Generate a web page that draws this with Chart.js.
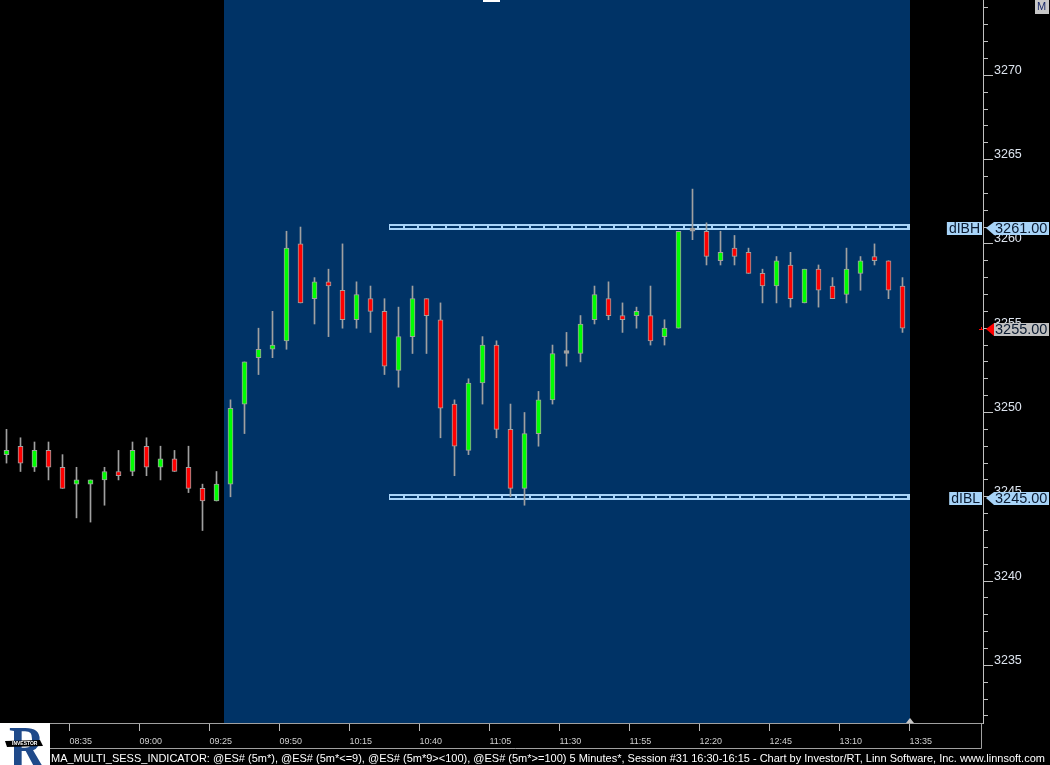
<!DOCTYPE html>
<html>
<head>
<meta charset="utf-8">
<title>@ES# 5 Minutes</title>
<script src="https://cdn.jsdelivr.net/npm/chart.js@4.4.1/dist/chart.umd.min.js"></script>
<style>
  html, body { margin: 0; padding: 0; background: #000; overflow: hidden; }
  #chart { display: block; }
</style>
</head>
<body>
<canvas id="chart" width="1050" height="765"></canvas>
<script>
// 5 minute bars, index 0 = first bar shown
const opens  = [3247.5, 3248, 3246.75, 3247.75, 3246.75, 3245.75, 3245.75, 3246, 3246.5, 3246.5,
                3248, 3246.75, 3247.25, 3246.75, 3245.5, 3244.75, 3245.75, 3250.5, 3253.25, 3253.75,
                3254.25, 3260, 3256.75, 3257.75, 3257.25, 3255.5, 3256.75, 3256, 3252.5, 3254.5,
                3256.75, 3255.5, 3250.5, 3247.75, 3251.75, 3254, 3249, 3245.5, 3248.75, 3250.75,
                3253.5, 3253.5, 3255.5, 3256.75, 3255.75, 3255.75, 3255.75, 3254.5, 3255, 3260.75,
                3260.75, 3259, 3259.75, 3259.5, 3258.25, 3257.5, 3258.75, 3256.5, 3258.5, 3257.5,
                3257, 3258.25, 3259.25, 3259, 3257.5];
const highs  = [3249, 3248.5, 3248.25, 3248.25, 3247.5, 3246.75, 3246, 3246.75, 3247.75, 3248.25,
                3248.5, 3248, 3247.75, 3248, 3245.75, 3246.5, 3250.75, 3253, 3255, 3256,
                3260.75, 3261, 3258, 3258.5, 3260, 3257.75, 3257.5, 3256.75, 3256.25, 3257.5,
                3256.75, 3256.5, 3250.75, 3252, 3254.5, 3254.25, 3250.5, 3250, 3251.25, 3254,
                3254.75, 3255.75, 3257.5, 3257.75, 3256.5, 3256.25, 3257.5, 3255.5, 3260.75, 3263.25,
                3261.25, 3260.75, 3260.5, 3259.75, 3258.5, 3259.25, 3259.5, 3258.5, 3258.75, 3258,
                3259.75, 3259.25, 3260, 3259, 3258];
const lows   = [3247, 3246.5, 3246.5, 3246, 3245.5, 3243.75, 3243.5, 3244.5, 3246, 3246.25,
                3246.25, 3246, 3246.5, 3245.25, 3243, 3244.75, 3245, 3248.75, 3252.25, 3253.25,
                3253.75, 3256.5, 3255.25, 3254.5, 3255, 3255, 3254.75, 3252.25, 3251.5, 3253.5,
                3253.5, 3248.5, 3246.25, 3247.5, 3250.5, 3248.5, 3245, 3244.5, 3248, 3250.5,
                3252.75, 3253, 3255.25, 3255.5, 3254.75, 3255, 3254, 3254, 3255, 3260.25,
                3258.75, 3258.75, 3258.75, 3258.25, 3256.5, 3256.5, 3256.25, 3256.5, 3256.25, 3256.75,
                3256.5, 3257.25, 3258.75, 3256.75, 3254.75];
const closes = [3247.75, 3247, 3247.75, 3246.75, 3245.5, 3246, 3246, 3246.5, 3246.25, 3247.75,
                3246.75, 3247.25, 3246.5, 3245.5, 3244.75, 3245.75, 3250.25, 3253, 3253.75, 3254,
                3259.75, 3256.5, 3257.75, 3257.5, 3255.5, 3257, 3256, 3252.75, 3254.5, 3256.75,
                3255.75, 3250.25, 3248, 3251.75, 3254, 3249, 3245.5, 3248.75, 3250.75, 3253.5,
                3253.5, 3255.25, 3257, 3255.75, 3255.5, 3256, 3254.25, 3255, 3260.75, 3260.75,
                3259.25, 3259.5, 3259.25, 3258.25, 3257.5, 3259, 3256.75, 3258.5, 3257.25, 3256.75,
                3258.5, 3259, 3259, 3257.25, 3255];

// time axis labels, one every 5 bars
const timeLabels = ['08:35', '09:00', '09:25', '09:50', '10:15', '10:40', '11:05',
                    '11:30', '11:55', '12:20', '12:45', '13:10', '13:35'];
const firstLabelBar = 4.5;

// session and initial balance
const sessionStart = 15.5;
const sessionEnd = 64.5;
const ibStart = 27.35;
const ibHigh = 3261.00;
const ibLow = 3245.00;
const lastPrice = 3255.00;

const footerText = 'MA_MULTI_SESS_INDICATOR: @ES# (5m*), @ES# (5m*<=9), @ES# (5m*9><100), @ES# (5m*>=100) 5 Minutes*, Session #31 16:30-16:15 - Chart by Investor/RT, Linn Software, Inc. www.linnsoft.com';

// colours
const BLUE = '#003366';
const UP = '#00ff00';
const DOWN = '#ff0000';
const EDGE = '#a0a0a0';
const TAG = '#a8d4f8';
const FONT = '"Liberation Sans", Arial, sans-serif';

const wickData = highs.map((h, i) => ({ x: i, y: [lows[i], h] }));
const bodyData = opens.map((o, i) => ({ x: i, y: [o, closes[i]] }));
const bodyColors = opens.map((o, i) => closes[i] > o ? UP : (closes[i] < o ? DOWN : EDGE));

function drawBand(ctx, x, y, level) {
    const Y = Math.round(y.getPixelForValue(level));
    const xa = Math.round(x.getPixelForValue(ibStart));
    const xb = Math.round(x.getPixelForValue(sessionEnd));
    ctx.fillStyle = TAG;
    ctx.fillRect(xa, Y - 3, xb - xa, 6);
    ctx.fillStyle = BLUE;
    ctx.fillRect(xa + 1, Y - 1, xb - xa - 2, 2);
    ctx.fillStyle = TAG;
    for (let v = ibStart + 1; v < sessionEnd; v++) {
        ctx.fillRect(Math.round(x.getPixelForValue(v)), Y - 1, 2, 2);
    }
}

function priceTag(ctx, yScale, level, name, bg, arrow) {
    const cy = Math.round(yScale.getPixelForValue(level)) + 1;
    const top = cy - 6, h = 13;
    const ax = yScale.left;
    ctx.font = '14px ' + FONT;
    ctx.textBaseline = 'middle';
    if (name) {
        const w = ctx.measureText(name).width + 4;
        ctx.fillStyle = bg;
        ctx.fillRect(ax - 1 - w, top, w, h);
        ctx.fillStyle = '#0a1a30';
        ctx.fillText(name, ax - 1 - w + 2, cy + 1);
    }
    ctx.fillStyle = arrow;
    ctx.beginPath();
    ctx.moveTo(ax + 3, cy);
    ctx.lineTo(ax + 11, top);
    ctx.lineTo(ax + 11, top + h);
    ctx.closePath();
    ctx.fill();
    ctx.fillStyle = bg;
    ctx.fillRect(ax + 11, top, 55, h);
    ctx.fillStyle = '#0a1a30';
    ctx.font = '14.5px ' + FONT;
    ctx.fillText(level.toFixed(2), ax + 12, cy + 1);
}

function drawLogo(ctx, left, top, w, h) {
    ctx.fillStyle = '#ffffff';
    ctx.fillRect(left, top, w, h);
    ctx.save();
    ctx.beginPath();
    ctx.rect(left, top, w, h);
    ctx.clip();
    ctx.fillStyle = '#1f4a8a';
    ctx.font = 'bold 62px "Liberation Serif", serif';
    ctx.textBaseline = 'alphabetic';
    ctx.translate(left + 9, top + h + 3);
    ctx.scale(0.8, 1);
    ctx.fillText('R', 0, 0);
    ctx.restore();
    // banner
    ctx.fillStyle = '#000000';
    ctx.beginPath();
    ctx.moveTo(left + 5, top + 18);
    ctx.lineTo(left + 40, top + 17);
    ctx.lineTo(left + 43, top + 23);
    ctx.lineTo(left + 7, top + 24);
    ctx.closePath();
    ctx.fill();
    ctx.fillStyle = '#ffffff';
    ctx.font = 'bold 5px ' + FONT;
    ctx.textBaseline = 'middle';
    ctx.fillText('INVESTOR', left + 12, top + 20.5);
}

const chromePlugin = {
    id: 'chrome',
    beforeDraw(chart) {
        const { ctx, chartArea: a, scales: { x } } = chart;
        ctx.save();
        ctx.fillStyle = '#000';
        ctx.fillRect(0, 0, chart.width, chart.height);
        const x0 = Math.round(x.getPixelForValue(sessionStart));
        const x1 = Math.round(x.getPixelForValue(sessionEnd));
        ctx.fillStyle = BLUE;
        ctx.fillRect(x0, a.top, x1 - x0, a.bottom - a.top);
        // small tab at the top of the session area
        ctx.fillStyle = '#ffffff';
        ctx.fillRect(483, 0, 17, 2);
        ctx.restore();
    },
    beforeDatasetsDraw(chart) {
        const { ctx, scales: { x, y } } = chart;
        ctx.save();
        drawBand(ctx, x, y, ibHigh);
        drawBand(ctx, x, y, ibLow);
        ctx.restore();
    },
    afterDraw(chart) {
        const { ctx, chartArea: a, scales: { x, y } } = chart;
        ctx.save();

        // price tags on the right axis
        priceTag(ctx, y, ibHigh, 'dIBH', TAG, TAG);
        priceTag(ctx, y, ibLow, 'dIBL', TAG, TAG);
        priceTag(ctx, y, lastPrice, '', '#c0c0c0', '#ff0000');
        const lp = Math.round(y.getPixelForValue(lastPrice));
        ctx.fillStyle = '#ff0000';
        ctx.fillRect(a.right - 4, lp + 1, 4, 1);
        ctx.fillRect(a.right - 2, lp - 1, 1, 3);

        // end of session marker
        const xe = Math.round(x.getPixelForValue(sessionEnd));
        ctx.fillStyle = '#c8c8c8';
        ctx.beginPath();
        ctx.moveTo(xe - 4, a.bottom);
        ctx.lineTo(xe, a.bottom - 5);
        ctx.lineTo(xe + 4, a.bottom);
        ctx.closePath();
        ctx.fill();

        // time axis box
        ctx.strokeStyle = '#a0a0a0';
        ctx.lineWidth = 1;
        ctx.beginPath();
        ctx.moveTo(50, 748.5);
        ctx.lineTo(a.right - 1.5, 748.5);
        ctx.lineTo(a.right - 1.5, a.bottom);
        ctx.stroke();

        // footer line
        ctx.fillStyle = '#000';
        ctx.fillRect(50, 749, chart.width - 50, chart.height - 749);
        let size = 11;
        ctx.font = size + 'px ' + FONT;
        size = size * 994 / ctx.measureText(footerText).width;
        ctx.font = size.toFixed(2) + 'px ' + FONT;
        ctx.fillStyle = '#ffffff';
        ctx.textBaseline = 'alphabetic';
        ctx.fillText(footerText, 51, 762);

        // logo
        drawLogo(ctx, 0, a.bottom, 50, chart.height - a.bottom);

        // M button
        ctx.fillStyle = '#c8c8c8';
        ctx.fillRect(1035, 0, 14, 14);
        ctx.fillStyle = '#1a2a6a';
        ctx.font = '11px ' + FONT;
        ctx.textBaseline = 'middle';
        ctx.fillText('M', 1037, 7);
        ctx.restore();
    }
};

const tickValues = [];
for (let v = 3232; v <= 3274; v++) tickValues.push(v);

new Chart(document.getElementById('chart'), {
    type: 'bar',
    data: {
        datasets: [
            {
                label: 'body',
                data: bodyData,
                backgroundColor: bodyColors,
                borderColor: EDGE,
                borderWidth: 1,
                borderSkipped: false,
                barThickness: 5,
                minBarLength: 3,
                grouped: false,
                order: 0
            },
            {
                label: 'wick',
                data: wickData,
                backgroundColor: EDGE,
                borderWidth: 0,
                barThickness: 1,
                grouped: false,
                order: 1
            }
        ]
    },
    options: {
        responsive: false,
        animation: false,
        devicePixelRatio: 1,
        layout: { padding: 0, autoPadding: false },
        plugins: {
            legend: { display: false },
            tooltip: { enabled: false }
        },
        scales: {
            x: {
                type: 'linear',
                position: 'bottom',
                offset: false,
                min: -6.5 / 14,
                max: 69.75,
                afterBuildTicks: s => {
                    s.ticks = timeLabels.map((t, k) => ({ value: firstLabelBar + 5 * k }));
                },
                afterFit: s => {
                    s.height = 42;
                    s.paddingLeft = 0;
                    s.paddingRight = 0;
                },
                ticks: {
                    callback: (v, idx) => timeLabels[idx],
                    autoSkip: false,
                    maxRotation: 0,
                    minRotation: 0,
                    align: 'start',
                    padding: 5,
                    color: '#d0d0d0',
                    font: { family: FONT, size: 9 }
                },
                grid: { offset: false, drawOnChartArea: false, tickLength: 8, tickColor: '#b8b8b8' },
                border: { color: '#a0a0a0' }
            },
            y: {
                type: 'linear',
                position: 'right',
                min: 3231.583,
                max: 3274.466,
                afterBuildTicks: s => {
                    s.ticks = tickValues.map(v => ({ value: v }));
                },
                afterFit: s => {
                    s.width = 67;
                    s.paddingTop = 0;
                    s.paddingBottom = 0;
                },
                ticks: {
                    callback: v => (v % 5 === 0 ? String(v) : ''),
                    autoSkip: false,
                    padding: 1,
                    labelOffset: -5,
                    color: '#dde4ee',
                    font: { family: FONT, size: 12.5 }
                },
                grid: {
                    offset: false,
                    drawOnChartArea: false,
                    tickLength: 10,
                    tickColor: '#c0c0c0',
                    tickBorderDash: ctx => (ctx.tick && ctx.tick.value % 5 === 0 ? [] : [4, 20])
                },
                border: { color: '#c0c0c0' }
            }
        }
    },
    plugins: [chromePlugin]
});
</script>
</body>
</html>
